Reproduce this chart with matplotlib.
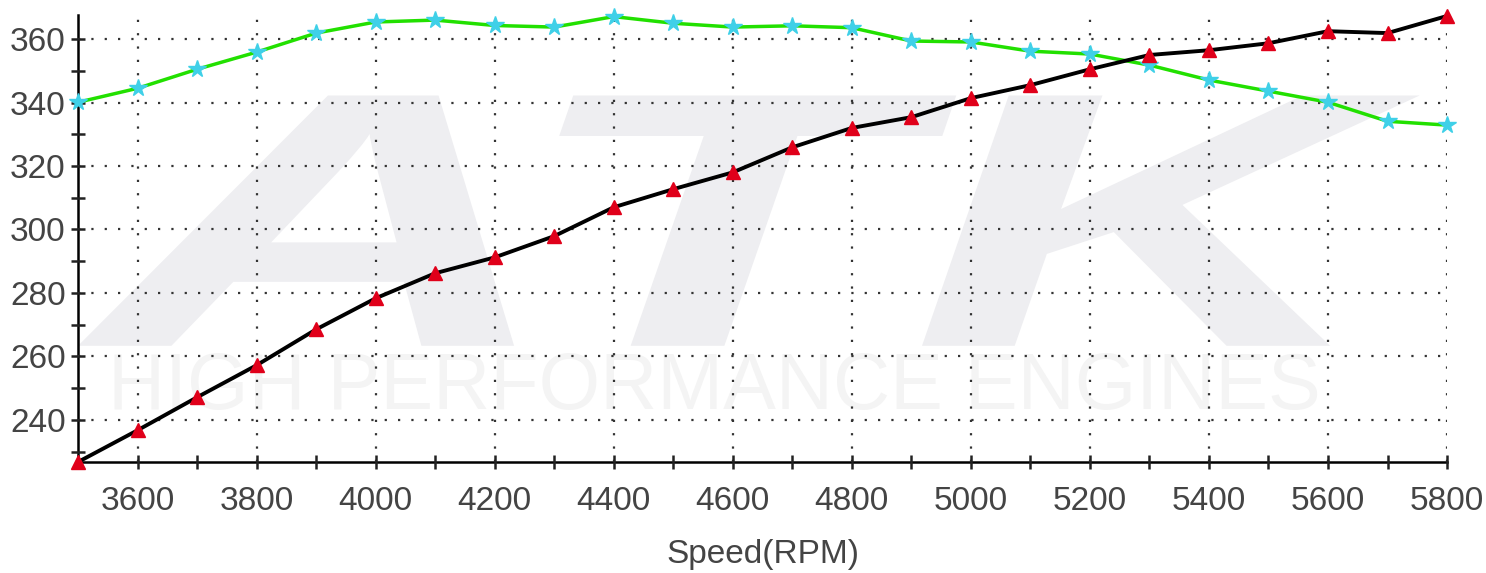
import matplotlib.pyplot as plt
from matplotlib.textpath import TextPath
from matplotlib.patches import PathPatch
from matplotlib.font_manager import FontProperties
from matplotlib.transforms import Affine2D

plt.rcParams['font.family'] = ['Liberation Sans', 'DejaVu Sans']

rpm = [3500, 3600, 3700, 3800, 3900, 4000, 4100, 4200, 4300, 4400, 4500, 4600,
       4700, 4800, 4900, 5000, 5100, 5200, 5300, 5400, 5500, 5600, 5700, 5800]
torque = [340.1, 344.5, 350.5, 355.9, 361.9, 365.4, 366.0, 364.3, 363.8, 367.1, 365.0, 363.8,
          364.2, 363.6, 359.4, 359.1, 356.2, 355.3, 351.8, 347.1, 343.6, 340.1, 334.1, 332.9]
power = [226.7, 236.7, 247.1, 257.2, 268.5, 278.3, 286.2, 291.2, 297.9, 307.0, 312.7, 318.0,
         325.9, 332.0, 335.4, 341.4, 345.5, 350.5, 355.0, 356.5, 358.7, 362.5, 361.9, 367.3]

fig = plt.figure(figsize=(14.86, 5.73), dpi=100)
ax = fig.add_axes([0.0525, 0.1937, 0.9213, 0.7801])

# watermark logo, stretched into a box in axes coords
tp = TextPath((0, 0), "ATK", prop=FontProperties(family='Liberation Sans', weight='bold', style='italic'))
ext = tp.get_extents()
x0, x1, y0, y1 = 0.0, 0.98, 0.26, 0.82
tr = Affine2D().translate(-ext.x0, -ext.y0).scale((x1 - x0) / ext.width, (y1 - y0) / ext.height).translate(x0, y0)
ax.add_patch(PathPatch(tr.transform_path(tp), transform=ax.transAxes, facecolor='#eeeef1',
                       edgecolor='none', zorder=0))
ax.text(0.465, 0.165, "HIGH PERFORMANCE ENGINES", transform=ax.transAxes, ha='center', va='center',
        fontsize=57, color='#f4f4f4', zorder=0)

ax.plot(rpm, torque, color='#22e000', lw=2.5, marker='*', ms=13, mfc='#3fd0e8', mec='#3fd0e8',
        zorder=3, clip_on=False)
ax.plot(rpm, power, color='black', lw=2.8, marker='^', ms=10, mfc='#e0001a', mec='#e0001a',
        zorder=4, clip_on=False)

ax.set_xlim(3500, 5800)
ax.set_ylim(226.7, 367.6)
ax.set_xticks(range(3600, 5801, 200))
ax.set_xticks(range(3500, 5801, 100), minor=True)
ax.set_yticks(range(240, 361, 20))
ax.set_yticks(range(230, 361, 10), minor=True)
ax.grid(True, which='major', color='#333333', linestyle=(0, (1, 5)), lw=1.6)
ax.set_axisbelow(False)
for s in ['top', 'right']:
    ax.spines[s].set_visible(False)
for s in ['left', 'bottom']:
    ax.spines[s].set_linewidth(1.8)
ax.tick_params(which='both', direction='inout', length=10, width=1.8, labelsize=24, colors='#222222',
               labelcolor='#444444')
ax.tick_params(axis='x', pad=12)
ax.tick_params(axis='y', pad=4)
ax.set_xlabel('Speed(RPM)', fontsize=24, color='#444444', labelpad=16)

fig.savefig('out.png', dpi=100)
